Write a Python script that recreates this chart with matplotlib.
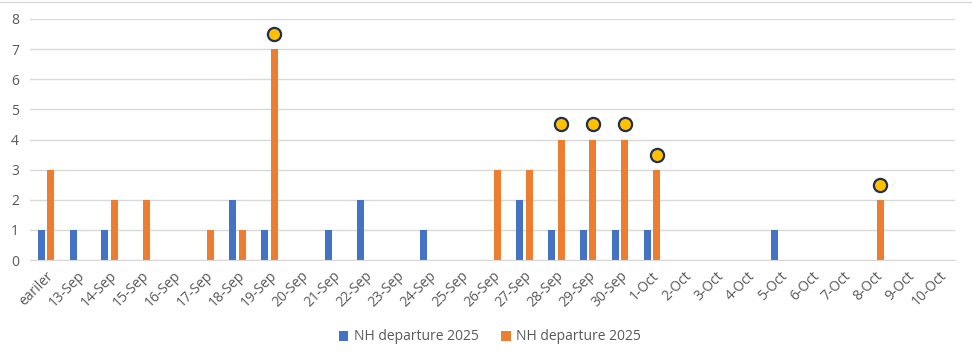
import numpy as np
import matplotlib
from matplotlib import pyplot as plt

matplotlib.rc('font', family=['Open Sans', 'DejaVu Sans'], size=10)

categories = ['eariler'] + ['%d-Sep' % d for d in range(13, 31)] + ['%d-Oct' % d for d in range(1, 11)]
blue_vals = [1, 1, 1, 0, 0, 0, 2, 1, 0, 1, 2, 0, 1, 0, 0, 2, 1, 1, 1,
             1, 0, 0, 0, 1, 0, 0, 0, 0, 0]
orange_vals = [3, 0, 2, 2, 0, 1, 1, 7, 0, 0, 0, 0, 0, 0, 3, 3, 4, 4, 4,
               3, 0, 0, 0, 0, 0, 0, 2, 0, 0]
marker_cats = ['19-Sep', '28-Sep', '29-Sep', '30-Sep', '1-Oct', '8-Oct']
marker_vals = [7.5, 4.5, 4.5, 4.5, 3.5, 2.5]
series_name = 'NH departure 2025'

blue = '#4472C4'
orange = '#ED7D31'
grey = '#595959'

fig = plt.figure(figsize=(9.72, 3.58), dpi=100)
ax = fig.add_axes([30/972, 1 - 260/358, 925/972, 241/358])

x = np.arange(len(categories))
w = 0.22
off = 0.15
ax.bar(x - off, blue_vals, width=w, color=blue, label=series_name, zorder=2)
ax.bar(x + off, orange_vals, width=w, color=orange, label=series_name, zorder=2)

mx = [categories.index(c) + off for c in marker_cats]
ax.scatter(mx, marker_vals, s=90, color='#FFC000', edgecolor='#1F2F4F', linewidth=1.6, zorder=3)

ax.set_xlim(-0.5, len(categories) - 0.5)
ax.set_ylim(0, 8)
ax.set_yticks(range(0, 9))
ax.yaxis.grid(True, color='#D9D9D9', linewidth=1)
ax.set_axisbelow(True)
for s in ['top', 'right', 'left']:
    ax.spines[s].set_visible(False)
ax.spines['bottom'].set_color('#D9D9D9')
ax.tick_params(axis='both', length=0, colors=grey, labelsize=10)
ax.tick_params(axis='y', pad=8)
ax.set_xticks(x)
ax.set_xticklabels(categories, rotation=45, ha='right', rotation_mode='anchor')
ax.tick_params(axis='x', pad=6)

ax.legend(loc='center', bbox_to_anchor=(490/972, 1 - 337/358), bbox_transform=fig.transFigure,
          ncol=2, frameon=False, handlelength=0.7, handleheight=0.7, columnspacing=1.6,
          handletextpad=0.4, labelcolor=grey, fontsize=10)

fig.add_artist(plt.Line2D([0, 1], [1 - 1.5/358, 1 - 1.5/358], color='#D9D9D9', linewidth=1))

fig.savefig('out.png', dpi=100)
